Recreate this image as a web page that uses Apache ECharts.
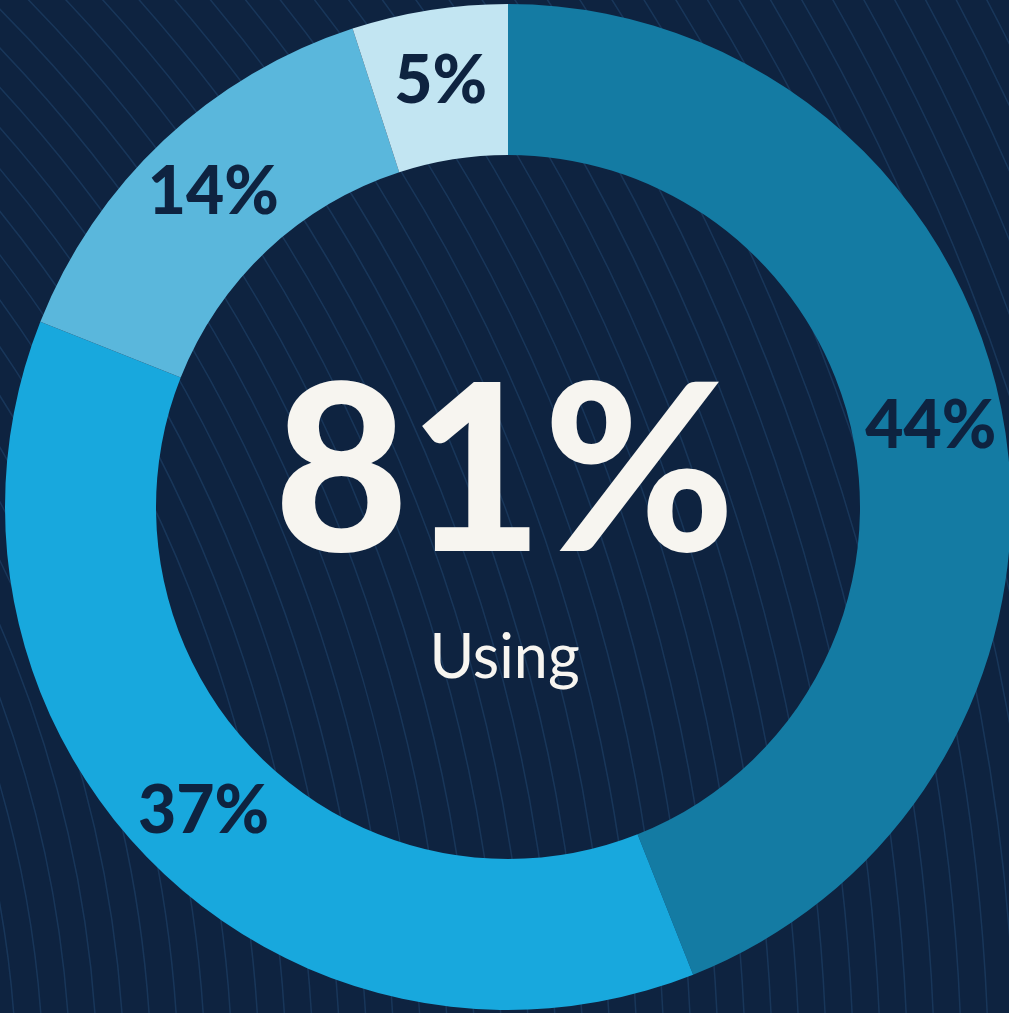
<!DOCTYPE html>
<html>
<head>
<meta charset="utf-8">
<script src="https://cdn.jsdelivr.net/npm/echarts@6/dist/echarts.min.js"></script>
<style>
html,body{margin:0;padding:0;background:#0e2340;}
#chart{width:1009px;height:1013px;}
</style>
</head>
<body>
<div id="chart"></div>
<script>
const categories = ['Segment A', 'Segment B', 'Segment C', 'Segment D'];
const values = [44, 37, 14, 5];
const sliceColors = ['#147ba3', '#18a8dd', '#5ab7dc', '#c2e5f2'];
const centerLabel = 'Using';
const usingTotal = values[0] + values[1];

// decorative background arcs
const bgArcs = [];
for (let r = 1090; r <= 2400; r += 27) {
  bgArcs.push({
    type: 'circle',
    silent: true,
    z: -10,
    shape: { cx: -1100, cy: 1100, r: r },
    style: { fill: null, stroke: 'rgba(50,100,150,0.30)', lineWidth: 1.5 }
  });
}

const chart = echarts.init(document.getElementById('chart'), null, { renderer: 'canvas' });
chart.setOption({
  backgroundColor: '#0e2340',
  animation: false,
  graphic: bgArcs.concat([
    {
      type: 'text', z: 100, left: 'center', top: 360,
      style: { text: usingTotal + '%', fill: '#f7f5f0', font: '900 232px Lato', textAlign: 'center' }
    },
    {
      type: 'text', z: 100, left: 'center', top: 628,
      style: { text: centerLabel, fill: '#f7f5f0', font: '400 61px Lato', textAlign: 'center' }
    }
  ]),
  series: [{
    type: 'pie',
    center: [508, 507],
    radius: [352, 503],
    startAngle: 90,
    clockwise: true,
    silent: true,
    label: {
      show: true,
      position: 'inside',
      formatter: '{c}%',
      color: '#0e2340',
      fontFamily: 'Lato',
      fontWeight: 900,
      fontSize: 66
    },
    labelLine: { show: false },
    itemStyle: { borderWidth: 0 },
    data: categories.map((c, i) => ({ name: c, value: values[i], itemStyle: { color: sliceColors[i] } }))
  }]
});
</script>
</body>
</html>
